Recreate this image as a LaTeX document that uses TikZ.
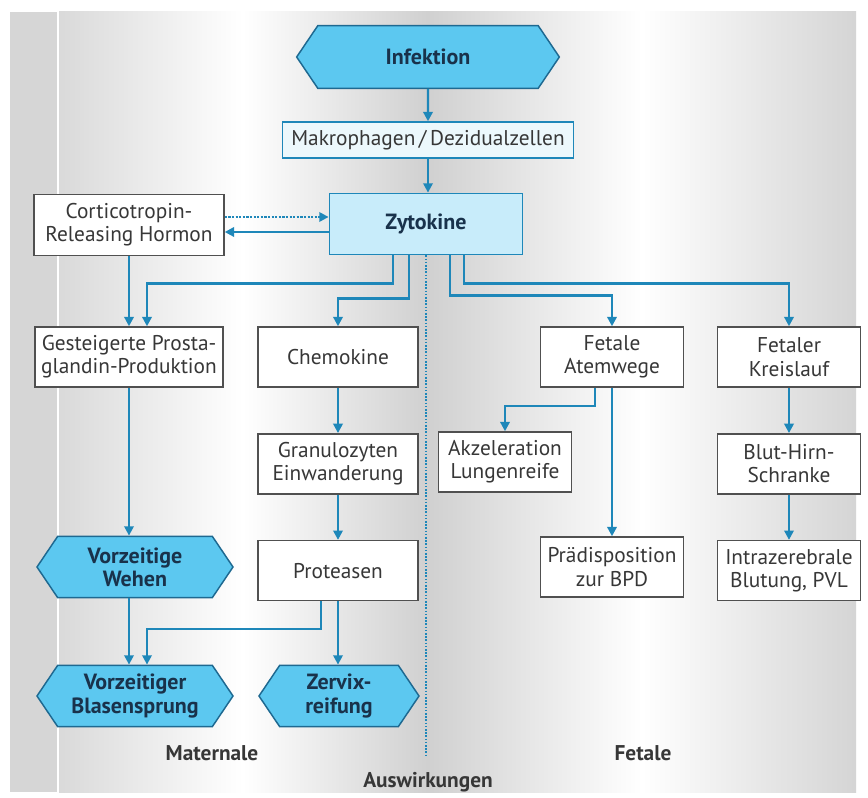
\documentclass[tikz,border=0pt]{standalone}
\usepackage{fontspec}
\setmainfont{PT Sans}
\usepackage{xcolor}
\usepackage{tikz}
\usetikzlibrary{arrows.meta,positioning,shapes.symbols}

\definecolor{arrowblue}{RGB}{30,135,185}
\definecolor{hexfill}{RGB}{92,200,240}
\definecolor{hexborder}{RGB}{30,105,145}
\definecolor{zytofill}{RGB}{200,236,250}
\definecolor{makrofill}{RGB}{236,248,252}
\definecolor{boxborder}{RGB}{80,80,80}
\definecolor{textgray}{RGB}{55,55,55}
\definecolor{hextext}{RGB}{25,50,75}
\definecolor{bggray}{RGB}{208,208,208}
\definecolor{stripgray}{RGB}{214,214,214}

\begin{document}
\begin{tikzpicture}[
  x=0.75pt, y=-0.75pt,
  font=\fontsize{16}{17.5}\selectfont,
  node distance=34pt and 30pt,
  wbox/.style={draw=boxborder, line width=1.1pt, fill=white, text=textgray, align=center, minimum width=120pt, minimum height=45pt, inner sep=2pt},
  hexa/.style={signal, signal to=east and west, signal pointer angle=112, draw=hexborder, line width=1.1pt, fill=hexfill, text=hextext, font=\fontsize{16.5}{17.5}\selectfont\bfseries, align=center, minimum width=147pt, minimum height=46pt, inner sep=1pt},
  zbox/.style={draw=arrowblue, line width=1.1pt, fill=zytofill, text=hextext, font=\fontsize{16.5}{17.5}\selectfont\bfseries, minimum width=145pt, minimum height=46pt},
  mbox/.style={draw=arrowblue, line width=1.1pt, fill=makrofill, text=textgray, minimum width=218pt, minimum height=27pt, inner sep=2pt},
  arrow/.style={-{Triangle[length=7pt,width=7pt]}, line width=1.7pt, draw=arrowblue},
  divider/.style={draw=arrowblue, line width=2pt, dash pattern=on 1.2pt off 1.2pt},
  sidelabel/.style={text=textgray, font=\fontsize{16}{17.5}\selectfont\bfseries}
]
\useasboundingbox (0,0) rectangle (868,798);
% background
\fill[white] (0,0) rectangle (868,798);
\fill[stripgray] (10,12) rectangle (57,792);
\shade[left color=bggray!80, right color=bggray, middle color=white] (59,12) rectangle (427,792);
\shade[left color=bggray, right color=bggray!90, middle color=white] (427,12) rectangle (856,792);

% top
\node[hexa, minimum width=197pt, minimum height=47pt] (infektion) at (428,57) {Infektion};
\node[mbox] (makro) at (428,140) {Makrophagen\,/\,Dezidualzellen};
\node[zbox] (zyto) at (426,224) {Zytokine};
\node[wbox, minimum width=142.5pt, minimum height=46pt] (crh) at (129,225) {Corticotropin-\\Releasing Hormon};

% maternal side
\node[wbox, minimum width=141pt] (prosta) at (129,357) {Gesteigerte Prosta-\\glandin-Produktion};
\node[wbox] (chemo) at (338,357) {Chemokine};
\node[wbox, below=of chemo] (granulo) {Granulozyten\\Einwanderung};
\node[wbox, below=of granulo] (protease) {Proteasen};
\node[hexa] (wehen) at (135,567) {Vorzeitige\\Wehen};
\node[hexa] (blase) at (135,696) {Vorzeitiger\\Blasensprung};
\node[hexa, minimum width=120pt] (zervix) at (339,696) {Zervix-\\reifung};

% fetal side
\node[wbox, minimum width=107pt] (atem) at (612,357) {Fetale\\Atemwege};
\node[wbox, minimum width=100pt] (akzel) at (505,462) {Akzeleration\\Lungenreife};
\node[wbox, minimum width=107pt] (praedis) at (612,567) {Prädisposition\\zur BPD};
\node[wbox, minimum width=107pt] (kreis) at (789,357) {Fetaler\\Kreislauf};
\node[wbox, minimum width=107pt, below=of kreis] (bhs) {Blut-Hirn-\\Schranke};
\node[wbox, minimum width=107pt, below=of bhs] (intra) {Intrazerebrale\\Blutung, PVL};

\node[sidelabel] (maternale) at (212,753) {Maternale};
\node[sidelabel] (fetale) at (643,753) {Fetale};
\node[sidelabel] (auswirk) at (428,782) {Auswirkungen};

\draw[divider] (zyto.south) -- ++(0,502);

\draw[arrow] (infektion) -- (makro);
\draw[arrow] (makro.south) -- (makro.south |- zyto.north);
\draw[arrow, densely dotted] ([yshift=6pt]crh.east) -- ([yshift=6pt]crh.east -| zyto.west);
\draw[arrow] ([yshift=-6pt]zyto.west) -- ([yshift=-6pt]zyto.west -| crh.east);
\draw[arrow] (crh) -- (prosta);
\draw[arrow] ([xshift=-25pt]zyto.south) -- ++(0,28) -| ([xshift=13.5pt]prosta.north);
\draw[arrow] ([xshift=-13pt]zyto.south) -- ++(0,43) -| (chemo.north);
\draw[arrow] ([xshift=18pt]zyto.south) -- ++(0,40) -| (atem.north);
\draw[arrow] ([xshift=28.5pt]zyto.south) -- ++(0,28) -| (kreis.north);
\draw[arrow] (chemo) -- (granulo);
\draw[arrow] (granulo) -- (protease);
\draw[arrow] (prosta.south) -- (prosta.south |- wehen.north);
\draw[arrow] (prosta.south |- wehen.south) -- (prosta.south |- blase.north);
\draw[arrow] ([xshift=-13pt]protease.south) -- ++(0,28) -| ([xshift=13.5pt]prosta.south |- blase.north);
\draw[arrow] (protease.south) -- (protease.south |- zervix.north);
\draw[arrow] ([xshift=-13pt]atem.south) -- ++(0,18) -| (akzel.north);
\draw[arrow] (atem) -- (praedis);
\draw[arrow] (kreis) -- (bhs);
\draw[arrow] (bhs) -- (intra);
\end{tikzpicture}
\end{document}
